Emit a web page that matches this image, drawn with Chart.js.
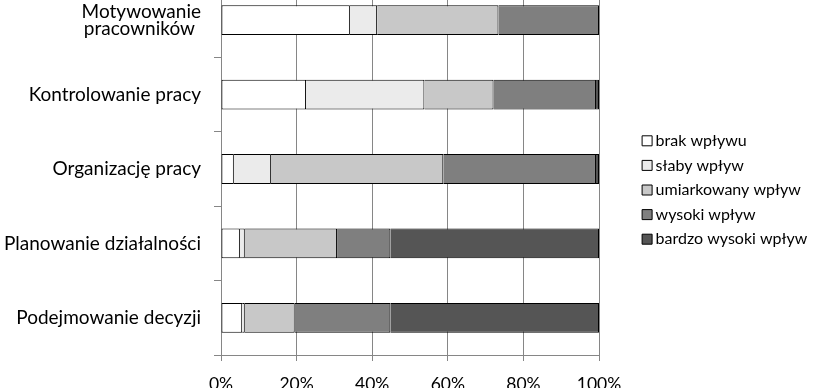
<!DOCTYPE html>
<html>
<head>
<meta charset="utf-8">
<script src="https://cdn.jsdelivr.net/npm/chart.js@4"></script>
<style>
  html, body { margin: 0; padding: 0; background: #ffffff; }
  #wrap { position: relative; width: 818px; height: 388px; overflow: hidden; background: #ffffff; }
  #c { position: absolute; left: 0; top: -17px; }
</style>
</head>
<body>
<div id="wrap"><canvas id="c" width="818" height="414"></canvas></div>
<script>
// ---- data (percent of answers) ----
const categories = [
  ['Motywowanie', 'pracowników \u200A'],
  'Kontrolowanie pracy',
  'Organizację pracy',
  'Planowanie działalności',
  'Podejmowanie decyzji'
];
const seriesNames = ['brak wpływu', 'słaby wpływ', 'umiarkowany wpływ', 'wysoki wpływ', 'bardzo wysoki wpływ'];
const brakWplywu       = [34.1, 22.5,  3.4,  5.0,  5.6];
const slabyWplyw       = [ 7.2, 31.3,  9.8,  1.3,  0.7];
const umiarkowanyWplyw = [32.1, 18.3, 45.6, 24.4, 13.2];
const wysokiWplyw      = [26.6, 27.1, 40.4, 14.1, 25.3];
const bardzoWysokiWplyw= [ 0.0,  0.8,  0.8, 55.2, 55.2];
const xTickLabels = ['0%', '20%', '40%', '60%', '80%', '100%'];

const seriesValues = [brakWplywu, slabyWplyw, umiarkowanyWplyw, wysokiWplyw, bardzoWysokiWplyw];
const seriesColors = ['#ffffff', '#ebebeb', '#c8c8c8', '#7f7f7f', '#555555'];

const GRID = '#868686';
const FONT = 'Lato';

const legendShift = {
  id: 'legendShift',
  afterLayout(chart) {
    const lg = chart.legend;
    if (!lg) return;
    lg.left = 638;
    lg.right = 860;
    lg.width = lg.right - lg.left;
  }
};

new Chart(document.getElementById('c').getContext('2d'), {
  type: 'bar',
  data: {
    labels: categories,
    datasets: seriesValues.map((vals, i) => ({
      label: seriesNames[i],
      data: vals,
      backgroundColor: seriesColors[i],
      borderColor: '#000000',
      borderWidth: 1,
      borderSkipped: i === 0 ? false : 'start',
      categoryPercentage: 1.0,
      barPercentage: 0.4
    }))
  },
  options: {
    indexAxis: 'y',
    responsive: false,
    maintainAspectRatio: false,
    animation: false,
    devicePixelRatio: 1,
    layout: { autoPadding: false, padding: { left: 0, right: 69, top: 0, bottom: 0 } },
    scales: {
      x: {
        stacked: true,
        min: 0,
        max: 100,
        ticks: {
          stepSize: 20,
          color: '#000000',
          font: { family: FONT, size: 17.5 },
          padding: 13,
          maxRotation: 0,
          callback: (value, index) => xTickLabels[index]
        },
        grid: { color: GRID, lineWidth: 1, tickLength: 6, drawOnChartArea: true },
        border: { color: GRID, width: 1 },
        afterFit: (s) => { s.height = 42; s.paddingLeft = 0; s.paddingRight = 0; }
      },
      y: {
        stacked: true,
        ticks: {
          color: '#000000',
          font: { family: FONT, size: 19, lineHeight: 0.9 },
          padding: 13,
          autoSkip: false
        },
        grid: { color: GRID, lineWidth: 1, tickLength: 7, drawOnChartArea: false, offset: true },
        border: { color: GRID, width: 1 },
        afterFit: (s) => { s.width = 221; s.paddingTop = 0; s.paddingBottom = 0; }
      }
    },
    plugins: {
      legend: {
        position: 'right',
        maxWidth: 150,
        labels: {
          usePointStyle: true,
          pointStyle: 'rect',
          boxWidth: 1,
          boxHeight: 10,
          padding: 8.6,
          color: '#000000',
          font: { family: FONT, size: 16 }
        }
      },
      tooltip: { enabled: false }
    }
  },
  plugins: [legendShift]
});
</script>
</body>
</html>
